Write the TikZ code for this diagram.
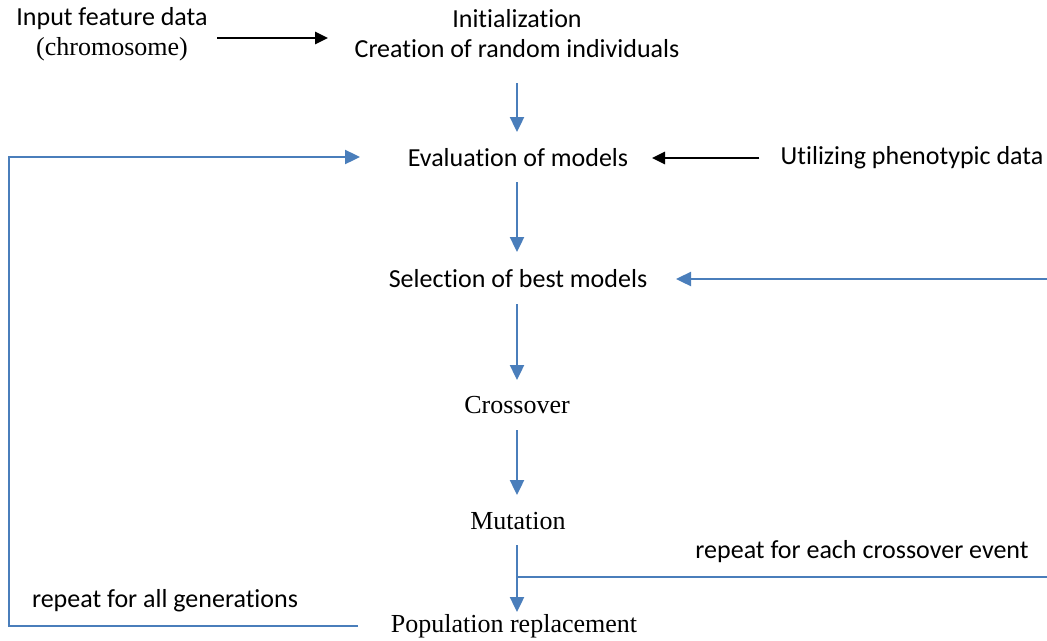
\documentclass[tikz,border=0pt]{standalone}
\usepackage{fontspec}
\setmainfont{Carlito}[Ligatures=NoCommon]
\newfontfamily\tnr{Liberation Serif}
\usetikzlibrary{arrows.meta}
\definecolor{lblue}{HTML}{4A7EBB}
\begin{document}
\begin{tikzpicture}[x=1pt,y=-1pt,
  lbl/.style={inner sep=0pt, font=\fontsize{26}{30}\selectfont, align=center},
  tlbl/.style={inner sep=0pt, font=\tnr\fontsize{26}{30}\selectfont, align=center},
  barrow/.style={draw=lblue, line width=2.4pt, -{Triangle[length=15pt,width=14pt]}},
  bline/.style={draw=lblue, line width=2.4pt},
  karrow/.style={draw=black, line width=2.6pt, -{Triangle[length=13pt,width=12pt]}}]
\useasboundingbox (0,0) rectangle (1047,640);
\node[lbl] (input) at (112,34) {Input feature data\\{\tnr(chromosome)}};
\node[lbl] (init) at (517,34) {Initialization\\Creation of random individuals};
\node[lbl] (eval) at (518,158) {Evaluation of models};
\node[lbl] (pheno) at (912,158) {Utilizing phenotypic data};
\node[lbl] (sel) at (518,279) {Selection of best models};
\node[tlbl] (cross) at (517,405) {Crossover};
\node[tlbl] (mut) at (518,521) {Mutation};
\node[tlbl] (pop) at (514,626) {Population replacement};
\node[lbl] (rep1) at (862,552) {repeat for each crossover event};
\node[lbl] (rep2) at (165,601) {repeat for all generations};
\coordinate (selin) at (1047,279);
\coordinate (xin) at (1047,577);
\coordinate (lc1) at (9,626);
\coordinate (lc2) at (9,157);
\coordinate (j) at (517,577);
\draw[karrow] (217,38) -- (328,38);
\draw[karrow] (pheno.west) ++(-21,0) -- (652,158);
\draw[barrow] (517,83) -- (517,132);
\draw[barrow] (517,182) -- (517,252);
\draw[barrow] (517,304) -- (517,380);
\draw[barrow] (517,430) -- (517,495);
\draw[barrow] (517,545) -- (517,612);
\draw[barrow] (selin) -- (676,279);
\draw[bline] (xin) -- (j);
\draw[barrow] (358,626) -- (lc1) -- (lc2) -- (360,157);
\end{tikzpicture}
\end{document}
